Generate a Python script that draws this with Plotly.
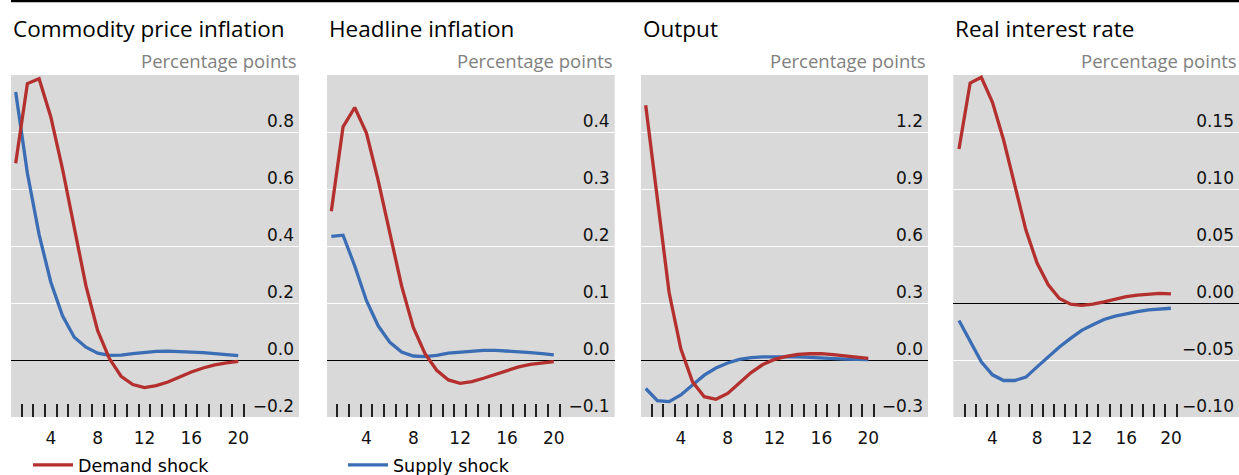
import plotly.graph_objects as go

# Quarters after the shock
quarters = list(range(1, 21))

panel_titles = ["Commodity price inflation", "Headline inflation", "Output", "Real interest rate"]

# Impulse responses, percentage points
commodity_demand = [0.69, 0.97, 0.987, 0.853, 0.67, 0.463, 0.26, 0.103, 0.005, -0.057,
                    -0.086, -0.097, -0.09, -0.077, -0.059, -0.042, -0.028, -0.017, -0.010, -0.005]
commodity_supply = [0.94, 0.655, 0.44, 0.273, 0.155, 0.08, 0.045, 0.024, 0.016, 0.017,
                    0.022, 0.027, 0.030, 0.031, 0.030, 0.028, 0.026, 0.022, 0.019, 0.015]

headline_demand = [0.261, 0.409, 0.443, 0.398, 0.315, 0.223, 0.13, 0.057, 0.011, -0.018,
                   -0.035, -0.041, -0.038, -0.032, -0.025, -0.018, -0.012, -0.0075, -0.005, -0.003]
headline_supply = [0.217, 0.219, 0.165, 0.104, 0.06, 0.031, 0.014, 0.007, 0.006, 0.008,
                   0.012, 0.014, 0.016, 0.017, 0.017, 0.016, 0.0145, 0.013, 0.011, 0.009]

output_demand = [1.341, 0.84, 0.355, 0.059, -0.115, -0.193, -0.207, -0.176, -0.123, -0.066,
                 -0.024, 0.003, 0.019, 0.030, 0.033, 0.033, 0.028, 0.021, 0.014, 0.009]
output_supply = [-0.15, -0.214, -0.219, -0.184, -0.132, -0.08, -0.042, -0.016, 0.003, 0.012,
                 0.016, 0.017, 0.017, 0.016, 0.014, 0.010, 0.007, 0.005, 0.003, 0.002]

rate_demand = [0.135, 0.193, 0.198, 0.176, 0.143, 0.102, 0.064, 0.035, 0.016, 0.004,
               -0.001, -0.002, -0.001, 0.001, 0.0035, 0.0055, 0.007, 0.008, 0.0084, 0.008]
rate_supply = [-0.0154, -0.034, -0.0516, -0.063, -0.068, -0.068, -0.065, -0.056, -0.047, -0.0386,
               -0.031, -0.024, -0.019, -0.0145, -0.0116, -0.0093, -0.0075, -0.006, -0.0052, -0.0046]

y_tickvals = [
    [-0.2, 0.0, 0.2, 0.4, 0.6, 0.8],
    [-0.1, 0.0, 0.1, 0.2, 0.3, 0.4],
    [-0.3, 0.0, 0.3, 0.6, 0.9, 1.2],
    [-0.10, -0.05, 0.00, 0.05, 0.10, 0.15],
]
y_ticktext = [
    ["\u22120.2", "0.0", "0.2", "0.4", "0.6", "0.8"],
    ["\u22120.1", "0.0", "0.1", "0.2", "0.3", "0.4"],
    ["\u22120.3", "0.0", "0.3", "0.6", "0.9", "1.2"],
    ["\u22120.10", "\u22120.05", "0.00", "0.05", "0.10", "0.15"],
]
y_ranges = [[-0.2, 1.0], [-0.1, 0.5], [-0.3, 1.5], [-0.1, 0.2]]
x_ranges = [[0.6, 25.19], [0.63, 25.2], [0.6, 25.1], [0.49, 26.1]]
x_tickvals = [4, 8, 12, 16, 20]
x_boundaries = [q + 0.5 for q in quarters]

demand_series = [commodity_demand, headline_demand, output_demand, rate_demand]
supply_series = [commodity_supply, headline_supply, output_supply, rate_supply]

RED = "#b3302e"
BLUE = "#3b6db5"
BG = "#d9d9d9"
W, H = 1239, 475
TOP, BOTTOM = 75, 58
plot_h = H - TOP - BOTTOM

# Horizontal pixel extents of each panel
panel_px = [(11, 299), (327, 614.7), (641, 928), (953.3, 1239)]

fig = go.Figure()

for i in range(4):
    n = "" if i == 0 else str(i + 1)
    fig.add_trace(go.Scatter(
        x=quarters, y=supply_series[i], mode="lines", name="Supply shock",
        line=dict(color=BLUE, width=3.3), xaxis="x" + n, yaxis="y" + n,
        showlegend=(i == 0), legend="legend2", hoverinfo="skip"))
    fig.add_trace(go.Scatter(
        x=quarters, y=demand_series[i], mode="lines", name="Demand shock",
        line=dict(color=RED, width=3.3), xaxis="x" + n, yaxis="y" + n,
        showlegend=(i == 0), legend="legend", hoverinfo="skip"))

    x0, x1 = panel_px[i]
    dom = [x0 / W, min(x1 / W, 1.0)]
    fig.update_layout(**{
        "xaxis" + n: dict(
            domain=dom, range=x_ranges[i], anchor="y" + n,
            tickmode="array", tickvals=x_tickvals, ticks="", showgrid=False,
            zeroline=False, showline=False, ticklabelstandoff=9, automargin=False,
            tickfont=dict(family="DejaVu Sans", size=17, color="#111"),
            minor=dict(tickmode="array", tickvals=x_boundaries, ticks="inside",
                       ticklen=13, tickwidth=1.6, tickcolor="#222", showgrid=False),
        ),
        "yaxis" + n: dict(
            domain=[0, 1], range=y_ranges[i], anchor="x" + n, side="right",
            tickmode="array", tickvals=y_tickvals[i], ticktext=y_ticktext[i],
            ticks="", ticklabelposition="inside", ticklabelshift=-11,
            ticklabelstandoff=2, automargin=False,
            showgrid=True, gridcolor="white", gridwidth=1.3,
            zeroline=True, zerolinecolor="black", zerolinewidth=1.2,
            showline=False,
            tickfont=dict(family="DejaVu Sans", size=17, color="#111"),
        ),
    })

    fig.add_annotation(
        text=panel_titles[i], xref="paper", yref="paper",
        x=x0 / W, y=(H - BOTTOM - 28) / plot_h, xanchor="left", yanchor="middle",
        showarrow=False, font=dict(family="Open Sans", size=22.5, color="#000"))
    fig.add_annotation(
        text="Percentage points", xref="paper", yref="paper",
        x=min(x1 / W, 1.0), y=(H - BOTTOM - 60) / plot_h,
        xanchor="right", yanchor="middle",
        showarrow=False, font=dict(family="Open Sans", size=18.5, color="#808080"))

# Rule across the top of the chart
fig.add_shape(type="line", xref="paper", yref="paper",
              x0=11 / W, x1=1.0, y0=(H - BOTTOM - 1) / plot_h, y1=(H - BOTTOM - 1) / plot_h,
              line=dict(color="black", width=2.5))

legend_font = dict(family="DejaVu Sans", size=17.5, color="#000")
legend_y = (H - 465) / H
fig.update_layout(
    width=W, height=H,
    margin=dict(l=0, r=0, t=TOP, b=BOTTOM, pad=0, autoexpand=False),
    paper_bgcolor="white", plot_bgcolor=BG,
    legend=dict(x=28 / W, y=legend_y, xref="container", yref="container",
                xanchor="left", yanchor="middle",
                orientation="h", font=legend_font, bgcolor="rgba(0,0,0,0)", itemwidth=40),
    legend2=dict(x=343 / W, y=legend_y, xref="container", yref="container",
                 xanchor="left", yanchor="middle",
                 orientation="h", font=legend_font, bgcolor="rgba(0,0,0,0)", itemwidth=40),
)

fig.write_html("out.html")
